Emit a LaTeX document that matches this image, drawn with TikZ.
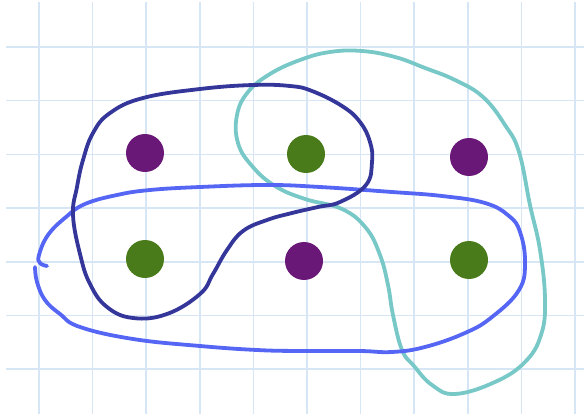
\documentclass[tikz,border=0pt]{standalone}
\usepackage{tikz}

\definecolor{gridblue}{HTML}{D6E6F4}
\definecolor{dotpurple}{HTML}{6A1878}
\definecolor{dotgreen}{HTML}{4A7B1A}
\definecolor{setnavy}{HTML}{35369A}
\definecolor{setblue}{HTML}{5566F5}
\definecolor{setteal}{HTML}{78C8C8}

\begin{document}
\begin{tikzpicture}[
    x=1pt,y=-1pt,
    gridline/.style={draw=gridblue,line width=1.6pt},
    hull/.style={line width=3.8pt,line cap=round,line join=round},
    dot/.style={circle,inner sep=0pt,minimum size=38pt},
    purpledot/.style={dot,fill=dotpurple},
    greendot/.style={dot,fill=dotgreen}]
    \fill[white] (0,0) rectangle (584,414);
    \useasboundingbox (0,0) rectangle (584,414);
    % paper grid
    \foreach \gx in {39,92.6,146.2,199.8,253.4,307,360.6,414.2,467.8,521.4,575}
      \draw[gridline] (\gx,2) -- (\gx,414);
    \foreach \gy in {47,100.7,154.4,208.1,261.8,315.5,369.2}
      \draw[gridline] (6,\gy) -- (584,\gy);
    % hand drawn sets
    \draw[hull,setteal] plot[smooth cycle,tension=.7] coordinates {
      (362,51) (395,57) (425,68) (455,80) (483,97) (505,125) (519,152)
      (530,205) (540,250) (545,300) (541,335) (525,362) (495,382)
      (455,394) (432,385) (414,366) (402,350) (393,315) (388,285)
      (380,255) (366,228) (342,209) (305,199) (275,186) (252,166)
      (238,143) (237,115) (248,92) (270,74) (300,60) (330,52)};
    \draw[hull,setblue] plot[smooth,tension=.7] coordinates {
      (47,266) (40,263) (39,255) (48,235) (66,217) (85,204) (117,195)
      (150,190) (200,187) (267,185) (320,187) (392,192) (442,196)
      (485,203) (509,216) (520,232) (525,262) (519,290) (492,317)
      (465,333) (425,347) (392,352) (359,351) (300,351) (257,350)
      (200,346) (133,339) (80,327) (60,314) (45,300) (37,282) (35,267)};
    \draw[hull,setnavy] plot[smooth cycle,tension=.7] coordinates {
      (312,91) (342,106) (360,122) (370,142) (372,162) (366,185)
      (340,202) (318,207) (292,213) (267,220) (243,231) (227,250)
      (213,274) (200,294) (167,314) (133,318) (107,307) (90,284)
      (80,254) (73,215) (77,187) (83,160) (93,133) (110,113) (143,98)
      (200,89) (253,85) (290,86)};
    % elements
    \node[purpledot] (p1) at (145,153) {};
    \node[greendot] (g1) at (306,154) {};
    \node[purpledot] (p2) at (469,157) {};
    \node[greendot] (g2) at (145,259) {};
    \node[purpledot] (p3) at (304,261) {};
    \node[greendot] (g3) at (469,260) {};
\end{tikzpicture}
\end{document}
